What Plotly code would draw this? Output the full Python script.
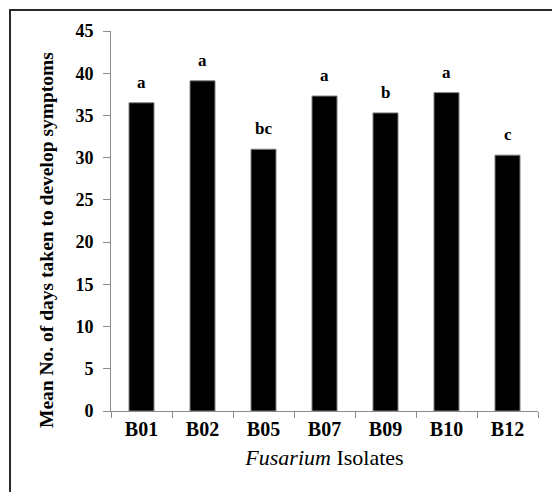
import plotly.graph_objects as go

# Isolates, mean days to symptom development and significance letters
isolates = ["B01", "B02", "B05", "B07", "B09", "B10", "B12"]
mean_days = [36.5, 39.1, 31.0, 37.3, 35.3, 37.7, 30.3]
letters = ["a", "a", "bc", "a", "b", "a", "c"]
y_ticks = [0, 5, 10, 15, 20, 25, 30, 35, 40, 45]

W, H = 552, 492
ML, MR, MT, MB = 111, 14, 31, 81
SERIF = "Liberation Serif, Times New Roman, serif"

fig = go.Figure()
fig.add_trace(go.Bar(
    x=isolates,
    y=mean_days,
    marker=dict(color="black", line=dict(color="#7f7f7f", width=1)),
    width=0.41,
    hoverinfo="x+y",
))

for iso, val, lab in zip(isolates, mean_days, letters):
    fig.add_annotation(
        x=iso, y=val, text=lab, showarrow=False,
        yanchor="bottom", yshift=9,
        font=dict(family=SERIF, size=17, color="black", weight="bold"),
    )

pw, ph = W - ML - MR, H - MT - MB

# Vertical axis title, set slightly below the middle of the plot area
fig.add_annotation(
    text="Mean No. of days taken to develop symptoms",
    xref="paper", yref="paper", x=(46 - ML) / pw, y=(H - MB - 240) / ph,
    xanchor="center", yanchor="middle", textangle=-90, showarrow=False,
    font=dict(family=SERIF, size=19.5, color="black", weight="bold"),
)

# Outer frame around the chart (runs off the right and bottom edges)
fig.add_shape(
    type="rect", xref="paper", yref="paper",
    x0=(10 - ML) / pw, x1=(W + 20 - ML) / pw,
    y0=-(MB + 20) / ph, y1=(H - 10 - MB) / ph,
    line=dict(color="#2b2b2b", width=2), fillcolor="rgba(0,0,0,0)",
    layer="below",
)

fig.update_layout(
    width=W, height=H,
    margin=dict(l=ML, r=MR, t=MT, b=MB),
    paper_bgcolor="white", plot_bgcolor="white",
    showlegend=False,
    xaxis=dict(
        type="category",
        showline=True, linecolor="#8c8c8c", linewidth=1,
        ticks="outside", ticklen=6, tickcolor="#8c8c8c", tickson="boundaries",
        showgrid=False, zeroline=False,
        tickfont=dict(family=SERIF, size=20, color="black", weight="bold"),
        title=dict(
            text="<i>Fusarium</i> Isolates",
            font=dict(family=SERIF, size=22, color="black"),
            standoff=10,
        ),
    ),
    yaxis=dict(
        range=[0, 45], tickvals=y_ticks,
        showline=True, linecolor="#8c8c8c", linewidth=1,
        ticks="outside", ticklen=7, tickcolor="#8c8c8c",
        showgrid=False, zeroline=False,
        tickfont=dict(family=SERIF, size=18, color="black", weight="bold"),
        ticklabelstandoff=6,
    ),
)

fig.write_html("out.html")
